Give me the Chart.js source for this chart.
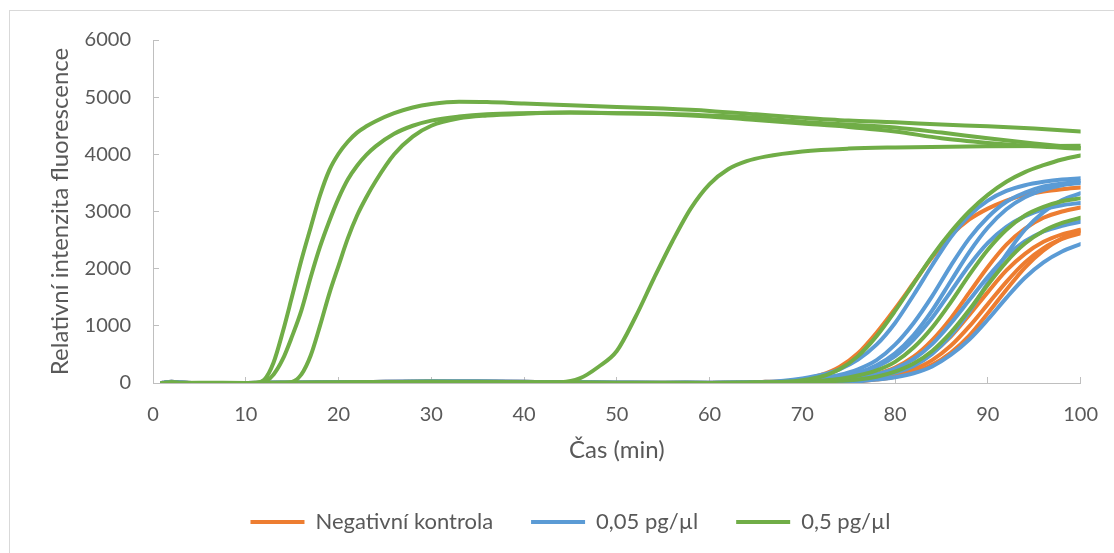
<!DOCTYPE html>
<html lang="cs">
<head>
<meta charset="utf-8">
<title>Relativní intenzita fluorescence</title>
<script src="https://cdn.jsdelivr.net/npm/chart.js@4.4.1/dist/chart.umd.min.js"></script>
<style>
  html, body { margin: 0; padding: 0; background: #fff; overflow: hidden; }
  #ramecek { position: absolute; left: 9px; top: 10px; width: 1200px; height: 600px; border: 1px solid #d9d9d9; }
  #graf { position: absolute; left: 0; top: 0; }
</style>
</head>
<body>
<div id="ramecek"></div>
<canvas id="graf" width="1114" height="553"></canvas>
<script>
// -- barvy --
const ORANZOVA = '#ED7D31';
const MODRA = '#5B9BD5';
const ZELENA = '#70AD47';
const SEDA = '#595959';
const OSA = '#BFBFBF';

// -- casove osy (min) --
const casRane = [1, 5, 10, 11, 12, 13, 14, 15, 16, 17, 18, 19, 20, 21, 22, 23, 24, 26, 28, 30, 33, 36, 40, 45, 50, 55, 60, 65, 70, 75, 80, 85, 90, 95, 100];
const casStredni = [1, 10, 20, 30, 40, 44, 46, 48, 50, 52, 54, 56, 58, 60, 62, 64, 66, 70, 75, 80, 90, 100];
const casPozdni = [1, 2, 3, 5, 10, 15, 20, 25, 30, 35, 40, 45, 50, 55, 60, 64, 66, 68, 70, 72, 74, 76, 78, 80, 82, 84, 86, 88, 90, 92, 94, 96, 98, 100];

// -- negativni kontrola --
const negK1 = [0, 15, 5, 0, 0, 0, 5, 10, 15, 15, 10, 5, 0, 0, 0, 5, 20, 30, 60, 140, 280, 520, 880, 1300, 1750, 2200, 2580, 2860, 3050, 3190, 3290, 3350, 3390, 3420];
const negK2 = [0, 10, 0, 0, 0, 0, 0, 5, 10, 10, 5, 0, 0, 0, 0, 5, 10, 10, 20, 30, 50, 90, 160, 270, 460, 750, 1130, 1580, 2030, 2420, 2700, 2890, 3000, 3070];
const negK3 = [5, 20, 10, 0, 0, 5, 10, 20, 25, 25, 20, 10, 5, 0, 5, 5, 10, 10, 10, 20, 30, 60, 110, 180, 310, 520, 810, 1190, 1590, 1970, 2260, 2470, 2600, 2680];
const negK4 = [0, 5, 0, 0, 0, 5, 10, 15, 20, 20, 15, 10, 5, 5, 0, 5, 10, 10, 10, 10, 20, 40, 80, 140, 240, 400, 650, 990, 1380, 1770, 2110, 2360, 2520, 2620];
const negK5 = [0, 15, 5, 0, 0, 0, 5, 10, 15, 15, 10, 5, 0, 0, 0, 5, 10, 10, 10, 10, 20, 30, 60, 110, 190, 320, 530, 830, 1220, 1630, 2020, 2320, 2530, 2660];

// -- 0,05 pg/ul --
const nizka1 = [5, 20, 10, 0, 0, 5, 10, 20, 25, 25, 20, 10, 5, 0, 5, 5, 20, 40, 80, 140, 240, 410, 670, 1050, 1540, 2060, 2550, 2930, 3190, 3360, 3460, 3520, 3560, 3580];
const nizka2 = [0, 10, 0, 0, 0, 0, 0, 5, 10, 10, 5, 0, 0, 0, 0, 5, 10, 20, 40, 80, 140, 240, 400, 670, 1050, 1520, 2050, 2530, 2900, 3170, 3330, 3440, 3490, 3530];
const nizka3 = [0, 5, 0, 0, 0, 5, 10, 15, 20, 20, 15, 10, 5, 5, 0, 5, 10, 20, 30, 60, 100, 180, 310, 520, 840, 1270, 1780, 2290, 2720, 3040, 3250, 3380, 3460, 3500];
const nizka4 = [0, 15, 5, 0, 0, 0, 5, 10, 15, 15, 10, 5, 0, 0, 0, 5, 10, 20, 30, 50, 90, 160, 280, 470, 760, 1140, 1600, 2060, 2450, 2730, 2920, 3040, 3110, 3150];
const nizka5 = [5, 20, 10, 0, 0, 5, 10, 20, 25, 25, 20, 10, 5, 0, 5, 5, 10, 10, 20, 30, 50, 80, 150, 250, 420, 680, 1040, 1450, 1860, 2220, 2480, 2650, 2750, 2820];
const nizka6 = [0, 10, 0, 0, 0, 0, 0, 5, 10, 10, 5, 0, 0, 0, 0, 5, 10, 10, 10, 20, 30, 60, 100, 180, 300, 510, 830, 1250, 1750, 2250, 2680, 2990, 3200, 3320];
const nizka7 = [0, 5, 0, 0, 0, 5, 10, 15, 20, 20, 15, 10, 5, 5, 0, 5, 10, 10, 10, 10, 20, 30, 60, 100, 170, 290, 490, 760, 1110, 1490, 1840, 2110, 2300, 2430];

// -- 0,5 pg/ul --
const vysoka1 = [0, 5, 0, 5, 60, 360, 900, 1520, 2150, 2720, 3280, 3720, 4010, 4220, 4380, 4490, 4580, 4720, 4820, 4880, 4920, 4915, 4890, 4860, 4830, 4800, 4760, 4700, 4640, 4590, 4560, 4520, 4490, 4450, 4400];
const vysoka2 = [0, 0, 0, 0, 20, 150, 420, 820, 1270, 1850, 2380, 2830, 3230, 3560, 3800, 3990, 4140, 4360, 4500, 4590, 4660, 4700, 4720, 4730, 4720, 4710, 4680, 4640, 4570, 4520, 4470, 4380, 4280, 4190, 4110];
const vysoka3 = [0, 0, 0, 0, 0, 0, 5, 20, 150, 480, 1000, 1560, 2050, 2530, 2930, 3250, 3530, 4000, 4310, 4500, 4630, 4680, 4710, 4730, 4720, 4700, 4660, 4600, 4540, 4480, 4400, 4280, 4200, 4140, 4100];
const vysoka4 = [0, 0, 10, 20, 10, 15, 80, 280, 560, 1150, 1830, 2480, 3060, 3480, 3740, 3880, 3960, 4050, 4100, 4120, 4140, 4150];
const vysoka5 = [0, 10, 0, 0, 0, 0, 0, 5, 10, 10, 5, 0, 0, 0, 0, 5, 10, 20, 50, 110, 240, 470, 820, 1260, 1740, 2220, 2640, 3000, 3290, 3520, 3690, 3810, 3910, 3980];
const vysoka6 = [0, 15, 5, 0, 0, 0, 5, 10, 15, 15, 10, 5, 0, 0, 0, 5, 10, 10, 20, 40, 70, 130, 220, 370, 620, 970, 1410, 1890, 2330, 2680, 2930, 3080, 3180, 3230];
const vysoka7 = [0, 5, 0, 0, 0, 5, 10, 15, 20, 20, 15, 10, 5, 5, 0, 5, 10, 10, 10, 20, 40, 60, 110, 200, 340, 560, 880, 1280, 1720, 2120, 2440, 2660, 2800, 2890];

const popisky = ['Negativní kontrola', '0,05 pg/µl', '0,5 pg/µl'];

// jedna krivka = jeden dataset
function krivka(label, barva, poradi, casy, hodnoty) {
    return {
        label: label,
        data: casy.map((x, i) => ({ x: x, y: hodnoty[i] })),
        borderColor: barva,
        backgroundColor: barva,
        borderWidth: 4,
        borderCapStyle: 'round',
        borderJoinStyle: 'round',
        pointRadius: 0,
        cubicInterpolationMode: 'monotone',
        fill: false,
        order: poradi
    };
}

const datasety = [
    ...[negK1, negK2, negK3, negK4, negK5].map(h => krivka(popisky[0], ORANZOVA, 3, casPozdni, h)),
    ...[nizka1, nizka2, nizka3, nizka4, nizka5, nizka6, nizka7].map(h => krivka(popisky[1], MODRA, 2, casPozdni, h)),
    ...[vysoka1, vysoka2, vysoka3].map(h => krivka(popisky[2], ZELENA, 1, casRane, h)),
    krivka(popisky[2], ZELENA, 1, casStredni, vysoka4),
    ...[vysoka5, vysoka6, vysoka7].map(h => krivka(popisky[2], ZELENA, 1, casPozdni, h))
];

Chart.defaults.font.family = 'Lato, "Open Sans", sans-serif';
Chart.defaults.color = SEDA;

const ctx = document.getElementById('graf').getContext('2d');
new Chart(ctx, {
    type: 'line',
    data: { datasets: datasety },
    options: {
        responsive: false,
        animation: false,
        events: [],
        layout: { padding: { left: 60, right: 33, top: 39, bottom: 10 } },
        scales: {
            x: {
                type: 'linear',
                min: 0,
                max: 100,
                // vyssi lineHeight misto velkeho paddingu, jinak se osa zkrati zprava
                ticks: { stepSize: 10, color: SEDA, font: { size: 20, lineHeight: 2.2 }, padding: 16 },
                grid: { drawOnChartArea: false, tickLength: -6, color: OSA },
                border: { color: OSA, width: 1 },
                title: { display: true, text: 'Čas (min)', color: SEDA, font: { size: 24 }, padding: { top: 0, bottom: 8 } },
                afterFit: s => { s.height = 90; }
            },
            y: {
                min: 0,
                max: 6000,
                ticks: { stepSize: 1000, color: SEDA, font: { size: 20 }, padding: 28, format: { useGrouping: false } },
                grid: { drawOnChartArea: false, tickLength: -6, color: OSA },
                border: { color: OSA, width: 1 },
                title: { display: true, text: 'Relativní intenzita fluorescence', color: SEDA, font: { size: 24 }, padding: { top: -14, bottom: 0 } },
                afterFit: s => { s.width = 93; }
            }
        },
        plugins: {
            tooltip: { enabled: false },
            legend: {
                position: 'bottom',
                labels: {
                    color: SEDA,
                    font: { size: 22 },
                    padding: 38,
                    usePointStyle: true,
                    pointStyle: 'line',
                    pointStyleWidth: 54,
                    // jen prvni krivka z kazde skupiny
                    filter: (item, data) => data.datasets.findIndex(d => d.label === item.text) === item.datasetIndex,
                    sort: (a, b) => a.datasetIndex - b.datasetIndex
                }
            }
        }
    }
});
</script>
</body>
</html>
